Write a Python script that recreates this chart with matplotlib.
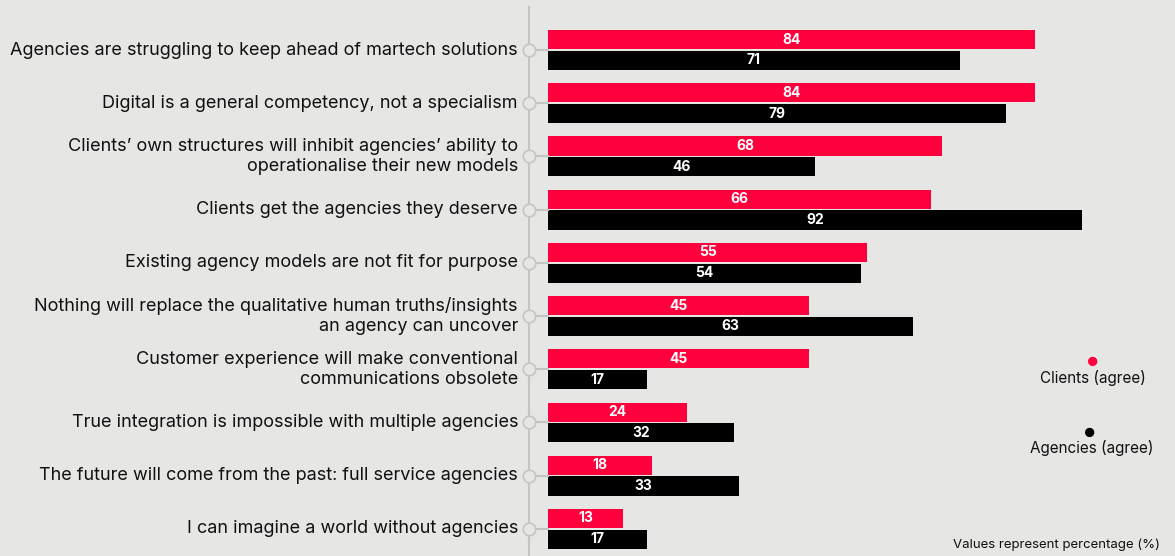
import matplotlib.pyplot as plt

# data
categories = [
    "Agencies are struggling to keep ahead of martech solutions",
    "Digital is a general competency, not a specialism",
    "Clients\u2019 own structures will inhibit agencies\u2019 ability to\noperationalise their new models",
    "Clients get the agencies they deserve",
    "Existing agency models are not fit for purpose",
    "Nothing will replace the qualitative human truths/insights\nan agency can uncover",
    "Customer experience will make conventional\ncommunications obsolete",
    "True integration is impossible with multiple agencies",
    "The future will come from the past: full service agencies",
    "I can imagine a world without agencies",
]
clients = [84, 84, 68, 66, 55, 45, 45, 24, 18, 13]
agencies = [71, 79, 46, 92, 54, 63, 17, 32, 33, 17]

bg = "#e6e6e5"
red = "#ff003c"
grey = "#c4c4c4"

plt.rcParams['font.family'] = ['Inter', 'DejaVu Sans']

fig = plt.figure(figsize=(11.75, 5.56), dpi=100, facecolor=bg)
ax = fig.add_axes([548/1175, 0, 627/1175, 1])
ax.set_facecolor(bg)
ax.set_xlim(0, 627/5.8)
ax.set_ylim(9.51, -0.94)
ax.axis('off')

h = 0.36
off = 0.195
ys = list(range(len(categories)))
ax.barh([y - off for y in ys], clients, height=h, color=red)
ax.barh([y + off for y in ys], agencies, height=h, color='black')

for y, c, a in zip(ys, clients, agencies):
    ax.text(c/2, y - off, str(c), ha='center', va='center', color='white',
            fontsize=10, fontweight='bold')
    ax.text(a/2, y + off, str(a), ha='center', va='center', color='white',
            fontsize=10, fontweight='bold')

# left spine with circles
xl = -19/5.8
ax.plot([xl, xl], [-0.81, 9.51], color=grey, lw=1.5, clip_on=False, zorder=1)
for y in ys:
    ax.plot([xl, 0], [y, y], color=grey, lw=1.5, clip_on=False, zorder=1)
    ax.plot(xl, y, 'o', ms=9, mfc=bg, mec=grey, mew=1.2, clip_on=False, zorder=2)
    ax.text(-30/5.8, y, categories[y], ha='right', va='center',
            fontsize=13, color='#111111', linespacing=1.25)

# legend
fig.text(1093/1175, 1 - 363/556, "\u25cf", color=red, ha='center', va='center', fontsize=9)
fig.text(1093/1175, 1 - 378/556, "Clients (agree)", ha='center', va='center', fontsize=11, color='#111111')
fig.text(1090/1175, 1 - 434/556, "\u25cf", color='black', ha='center', va='center', fontsize=9)
fig.text(1092/1175, 1 - 448/556, "Agencies (agree)", ha='center', va='center', fontsize=11, color='#111111')
fig.text(1160/1175, 1 - 545/556, "Values represent percentage (%)", ha='right', va='center', fontsize=9.5, color='#111111')

fig.savefig('out.png', dpi=100, facecolor=bg)
